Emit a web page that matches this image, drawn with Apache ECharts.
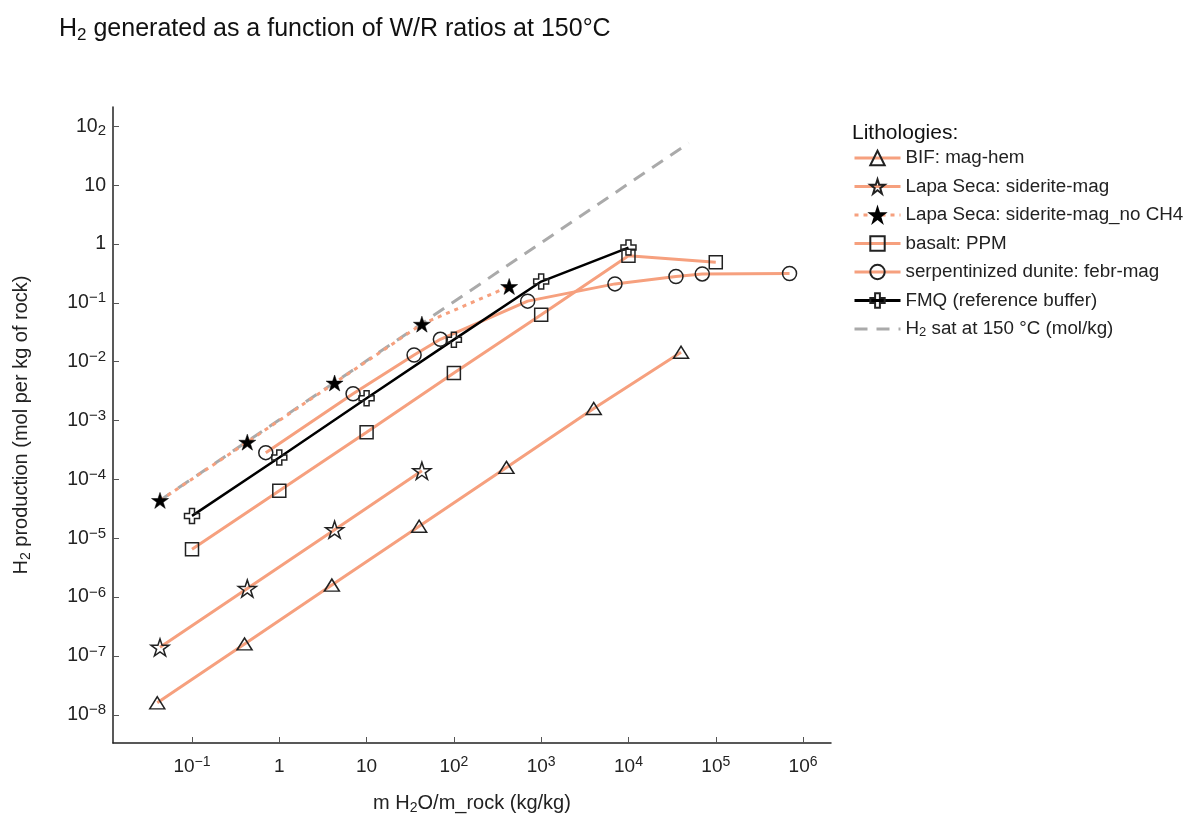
<!DOCTYPE html>
<html>
<head>
<meta charset="utf-8">
<script src="https://cdn.jsdelivr.net/npm/echarts@6/dist/echarts.min.js"></script>
<style>
html,body{margin:0;padding:0;background:#fff;}
#chart{width:1195px;height:818px;}
</style>
</head>
<body>
<div id="chart"></div>
<script>
// ---- data ----
const xTickValues = [0.1, 1, 10, 100, 1000, 1e4, 1e5, 1e6];
const yTickValues = [1e-8, 1e-7, 1e-6, 1e-5, 1e-4, 1e-3, 1e-2, 1e-1, 1, 10, 100];

const seriesNames = [
  'BIF: mag-hem',
  'Lapa Seca: siderite-mag',
  'Lapa Seca: siderite-mag_no CH4',
  'basalt: PPM',
  'serpentinized dunite: febr-mag',
  'FMQ (reference buffer)',
  'H2 sat at 150 °C (mol/kg)'
];

const bifX = [0.04, 0.4, 4, 40, 400, 4000, 40000];
const bifY = [1.6e-8, 1.6e-7, 1.6e-6, 1.6e-5, 1.6e-4, 1.6e-3, 1.45e-2];

const lapaX = [0.043, 0.43, 4.3, 43];
const lapaY = [1.4e-7, 1.4e-6, 1.4e-5, 1.4e-4];

const lapaNoCh4X = [0.043, 0.43, 4.3, 43, 430];
const lapaNoCh4Y = [4.4e-5, 4.3e-4, 4.35e-3, 0.0435, 0.19];

const basaltX = [0.1, 1, 10, 100, 1000, 1e4, 1e5];
const basaltY = [6.5e-6, 6.4e-5, 6.3e-4, 6.4e-3, 0.063, 0.63, 0.49];

const duniteX = [0.7, 7, 35, 70, 700, 7000, 35000, 70000, 700000];
const duniteY = [2.85e-4, 2.85e-3, 0.013, 0.024, 0.107, 0.21, 0.28, 0.31, 0.315];

const fmqX = [0.1, 1, 10, 100, 1000, 1e4];
const fmqY = [2.4e-5, 2.35e-4, 2.4e-3, 0.0237, 0.23, 0.87];

const h2satX = [0.043, 49000];
const h2satY = [4.4e-5, 52];

// ---- styling ----
const FONT = 'Liberation Sans, Arial, sans-serif';
const ORANGE = '#f6a07e';
const EDGE = '#222222';
const STAR = 'path://M100 0L122.45 69.1L195.11 69.1L136.33 111.8L158.78 180.9L100 138.2L41.22 180.9L63.67 111.8L4.89 69.1L77.55 69.1Z';
const PLUS = 'path://M2 0L4 0L4 2L6 2L6 4L4 4L4 6L2 6L2 4L0 4L0 2L2 2Z';

function pairs(xs, ys) { return xs.map((x, i) => [x, ys[i]]); }

function powLabel(v, sub) {
  const e = Math.round(Math.log10(v));
  if (e === 0) return '{b|1}';
  if (e === 1) return '{b|10}';
  const s = e < 0 ? '\u2212' + (-e) : String(e);
  return '{b|10}{' + (sub && e === 2 ? 'sb' : 'sp') + '|' + s + '}';
}

const tickRich = (fs) => ({
  b: { fontSize: fs, lineHeight: 24, fontFamily: FONT, color: '#222' },
  sp: { fontSize: Math.round(fs * 0.75), lineHeight: 13, verticalAlign: 'top', fontFamily: FONT, color: '#222' },
  sb: { fontSize: Math.round(fs * 0.75), lineHeight: 17, verticalAlign: 'bottom', fontFamily: FONT, color: '#222' }
});

function lineSeries(name, xs, ys, opts) {
  return Object.assign({
    name: name,
    type: 'line',
    data: pairs(xs, ys),
    symbolSize: 13,
    lineStyle: { color: ORANGE, width: 3 },
    itemStyle: { color: 'transparent', borderColor: EDGE, borderWidth: 1.5 },
    emphasis: { disabled: true },
    animation: false
  }, opts);
}

const series = [
  lineSeries(seriesNames[0], bifX, bifY, { symbol: 'triangle', symbolSize: [15, 12] }),
  lineSeries(seriesNames[1], lapaX, lapaY, { symbol: STAR, symbolSize: [18, 17] }),
  lineSeries(seriesNames[2], lapaNoCh4X, lapaNoCh4Y, {
    symbol: STAR, symbolSize: [17, 16],
    lineStyle: { color: ORANGE, width: 3, type: [4, 5] },
    itemStyle: { color: '#000', borderColor: '#000', borderWidth: 0.5 }
  }),
  lineSeries(seriesNames[3], basaltX, basaltY, { symbol: 'rect', symbolSize: 13 }),
  lineSeries(seriesNames[4], duniteX, duniteY, { symbol: 'circle', symbolSize: 14 }),
  lineSeries(seriesNames[5], fmqX, fmqY, {
    symbol: PLUS, symbolSize: 15,
    lineStyle: { color: '#000', width: 2.5 }
  }),
  lineSeries(seriesNames[6], h2satX, h2satY, {
    symbol: 'none',
    lineStyle: { color: '#aaaaaa', width: 3, type: [13, 9] },
    itemStyle: { color: 'transparent', borderWidth: 0 },
    z: 1
  })
];

const chart = echarts.init(document.getElementById('chart'), null, { renderer: 'canvas' });
chart.setOption({
  backgroundColor: '#fff',
  animation: false,
  title: [
    {
      text: '{n|H}{s|2}{n| generated as a function of W/R ratios at 150°C}',
      left: 54, top: 9,
      textStyle: {
        fontWeight: 'normal',
        rich: {
          n: { fontSize: 25, fontWeight: 'normal', fontFamily: FONT, color: '#111', lineHeight: 30 },
          s: { fontSize: 17, fontWeight: 'normal', fontFamily: FONT, color: '#111', lineHeight: 18, verticalAlign: 'bottom' }
        }
      }
    },
    {
      text: 'Lithologies:',
      left: 847, top: 118,
      textStyle: { fontSize: 21, fontWeight: 'normal', fontFamily: FONT, color: '#111' }
    }
  ],
  legend: {
    orient: 'vertical',
    left: 853, top: 148,
    padding: 0,
    itemWidth: 46, itemHeight: 18, itemGap: 8.5,
    selectedMode: false,
    data: seriesNames,
    lineStyle: { width: 3 },
    formatter: function (name) {
      if (name.indexOf('H2 sat') === 0) return '{t|H}{s|2}{t|' + name.slice(2) + '}';
      return '{t|' + name + '}';
    },
    textStyle: {
      fontSize: 18.8, fontFamily: FONT, color: '#222', lineHeight: 20,
      rich: {
        t: { fontSize: 18.8, fontFamily: FONT, color: '#222', lineHeight: 20 },
        s: { fontSize: 13, fontFamily: FONT, color: '#222', lineHeight: 12, verticalAlign: 'bottom' }
      }
    }
  },
  grid: { left: 113, top: 107, right: 364, bottom: 75, containLabel: false, outerBoundsMode: 'none' },
  xAxis: {
    type: 'log',
    logBase: 10,
    min: Math.pow(10, -1.905),
    max: Math.pow(10, 6.32),
    name: 'm H{s|2}O/m_rock (kg/kg)',
    nameLocation: 'middle',
    nameGap: 48,
    nameTextStyle: {
      fontSize: 20, fontFamily: FONT, color: '#222', lineHeight: 24,
      rich: { s: { fontSize: 14, fontFamily: FONT, color: '#222', lineHeight: 14, verticalAlign: 'bottom' } }
    },
    axisLine: { show: true, lineStyle: { color: '#222', width: 1.5 } },
    axisTick: { show: true, inside: true, length: 6, customValues: xTickValues, lineStyle: { color: '#555', width: 1 } },
    axisLabel: {
      customValues: xTickValues,
      margin: 12,
      fontSize: 19, fontFamily: FONT, color: '#222', lineHeight: 24,
      formatter: function (v) { return powLabel(v, false); },
      rich: tickRich(19)
    },
    splitLine: { show: false },
    minorTick: { show: false },
    minorSplitLine: { show: false }
  },
  yAxis: {
    type: 'log',
    logBase: 10,
    min: Math.pow(10, -8.479),
    max: Math.pow(10, 2.328),
    name: '{t|H}{s|2}{t| production (mol per kg of rock)}',
    nameLocation: 'middle',
    nameGap: 80,
    nameRotate: 90,
    nameTextStyle: {
      rich: {
        t: { fontSize: 20, fontFamily: FONT, color: '#222', lineHeight: 24 },
        s: { fontSize: 14, fontFamily: FONT, color: '#222', lineHeight: 14, verticalAlign: 'bottom' }
      }
    },
    axisLine: { show: true, lineStyle: { color: '#222', width: 1.5 } },
    axisTick: { show: true, inside: true, length: 6, customValues: yTickValues, lineStyle: { color: '#555', width: 1 } },
    axisLabel: {
      customValues: yTickValues,
      margin: 7,
      fontSize: 19.5, fontFamily: FONT, color: '#222', lineHeight: 24,
      formatter: function (v) { return powLabel(v, true); },
      rich: tickRich(19.5)
    },
    splitLine: { show: false },
    minorTick: { show: false },
    minorSplitLine: { show: false }
  },
  series: series
});
</script>
</body>
</html>
